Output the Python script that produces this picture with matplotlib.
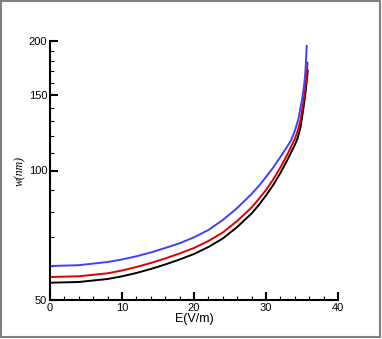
import numpy as np
import matplotlib.pyplot as plt
from matplotlib.ticker import FixedLocator, NullFormatter, FixedFormatter
from matplotlib.patches import Rectangle

# datos (E en V/m, w en nm)
E_black = [0, 4, 8, 10, 12, 14, 16, 18, 20, 22, 24, 26, 28, 29, 30, 31, 32, 33, 34, 34.4, 34.8, 35.2, 35.5, 35.7, 35.8]
w_black = [54.85, 55.06, 55.95, 56.76, 57.78, 59.03, 60.47, 62.11, 63.96, 66.40, 69.50, 73.91, 79.45,
           83.15, 87.48, 92.54, 98.68, 106.08, 114.64, 119.02, 126.24, 139.75, 152.25, 164.10, 170.64]

E_red = [0, 4, 8, 10, 12, 14, 16, 18, 20, 22, 24, 26, 28, 29, 30, 31, 32, 33, 34, 34.4, 34.8, 35.2, 35.5, 35.7, 35.75]
w_red = [56.55, 56.76, 57.68, 58.55, 59.66, 60.95, 62.44, 64.13, 66.05, 68.57, 71.76, 76.32, 82.04,
         85.86, 90.10, 95.31, 101.63, 109.25, 118.38, 123.56, 131.05, 144.31, 157.22, 171.28, 178.10]

E_blue = [0, 4, 8, 10, 12, 14, 16, 18, 20, 22, 24, 26, 28, 29, 30, 31, 32, 33, 33.5, 34, 34.5, 35, 35.3, 35.45, 35.55, 35.65]
w_blue = [59.98, 60.24, 61.28, 62.11, 63.18, 64.48, 66.05, 67.73, 69.94, 72.73, 76.73, 81.82, 88.19,
          92.05, 96.59, 101.63, 107.51, 114.03, 117.75, 123.56, 131.76, 145.87, 158.06, 167.65, 178.77, 194.76]

y_major = [50, 100, 150, 200]
y_minor = [60, 70, 80, 90, 110, 120, 130, 140, 160, 170, 180, 190]

plt.rcParams['font.family'] = ['Liberation Sans', 'DejaVu Sans']

fig = plt.figure(figsize=(3.82, 3.39), dpi=100)
ax = fig.add_axes([50/382, 1-300/339, 288/382, 259/339])

ax.plot(E_black, w_black, color='black', lw=1.4)
ax.plot(E_red, w_red, color='#dd0000', lw=1.4)
ax.plot(E_blue, w_blue, color='#4040ff', lw=1.4)

ax.set_yscale('log')
ax.set_xlim(0, 40)
ax.set_ylim(50, 200)
ax.yaxis.set_major_locator(FixedLocator(y_major))
ax.yaxis.set_major_formatter(FixedFormatter([str(v) for v in y_major]))
ax.yaxis.set_minor_locator(FixedLocator(y_minor))
ax.yaxis.set_minor_formatter(NullFormatter())
ax.set_xticks([0, 10, 20, 30, 40])
ax.set_xticks(np.arange(0, 41, 2), minor=True)

for s in ['top', 'right']:
    ax.spines[s].set_visible(False)
for s in ['left', 'bottom']:
    ax.spines[s].set_linewidth(1.5)

ax.tick_params(which='major', direction='in', length=6, width=1.5, labelsize=8, pad=2)
ax.tick_params(which='minor', direction='in', length=3, width=0.8)

ax.set_xlabel('E(V/m)', fontsize=9, labelpad=0)
ax.set_ylabel('w(nm)', fontsize=8.5, family='Liberation Serif', style='italic')
ax.yaxis.set_label_coords(-0.085, 0.5)

fig.patches.append(Rectangle((0.003, 0.006), 0.992, 0.99, transform=fig.transFigure,
                             fill=False, edgecolor='#808080', lw=1.5))

fig.savefig('out.png', dpi=100)
